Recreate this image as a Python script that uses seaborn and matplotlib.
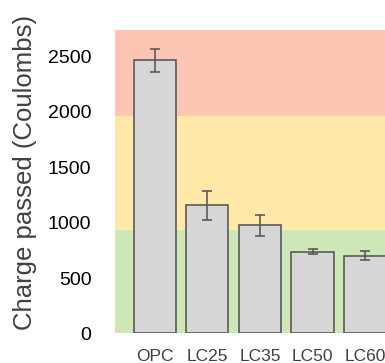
import matplotlib
matplotlib.use("Agg")
import matplotlib.pyplot as plt
import seaborn as sns
import pandas as pd

categories = ["OPC", "LC25", "LC35", "LC50", "LC60"]
charge = [2466, 1157, 974, 739, 703]
charge_err = [102, 131, 98, 20, 39]
yticks = [0, 500, 1000, 1500, 2000, 2500]
zones = [(0, 931, "#CDE8B6"), (931, 1965, "#FFE8A8"), (1965, 2735, "#FDC6B4")]

sns.set_style("white")
plt.rcParams["font.family"] = ["Liberation Sans", "DejaVu Sans"]

df = pd.DataFrame({"mix": categories, "charge": charge})

fig = plt.figure(figsize=(3.85, 3.63), dpi=100)
ax = fig.add_axes([115 / 385, 29.6 / 363, 270 / 385, 303 / 363])

for lo, hi, c in zones:
    ax.axhspan(lo, hi, color=c, zorder=0, lw=0)

sns.barplot(data=df, x="mix", y="charge", color="#D6D6D6", edgecolor="#5A5A5A",
            linewidth=1.2, width=0.8, errorbar=None, saturation=1, ax=ax, zorder=2)
ax.errorbar(x=list(range(len(categories))), y=charge, yerr=charge_err, fmt="none",
            ecolor="#5A5A5A", elinewidth=1.2, capsize=3.3, capthick=1.2, zorder=3)

ax.set_xlim(-0.76, 4.38)
ax.set_ylim(0, 2735)
ax.set_yticks(yticks)
ax.set_yticklabels([str(t) for t in yticks])
ax.tick_params(axis="y", length=0, pad=17, labelsize=14, labelcolor="black")
ax.tick_params(axis="x", length=0, pad=11, labelsize=12.5, labelcolor="#404040")
for s in ax.spines.values():
    s.set_visible(False)
ax.set_xlabel("")
ax.set_ylabel("")
fig.text(25 / 385, 1 - 172.5 / 363, "Charge passed (Coulombs)", rotation=90,
         ha="center", va="center", fontsize=18.5, color="#404040")

fig.savefig("out.png", dpi=100)
